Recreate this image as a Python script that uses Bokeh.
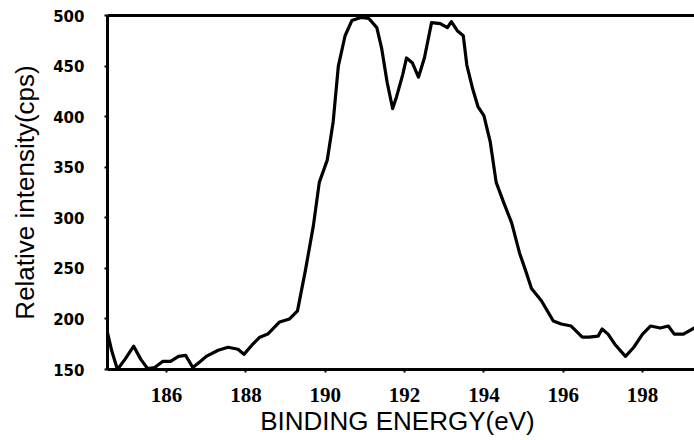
from bokeh.plotting import figure
from bokeh.models import LinearAxis, FixedTicker, Range1d
from bokeh.embed import file_html
from bokeh.resources import INLINE

# Binding energy (eV) and relative intensity (cps)
energy = [184.50, 184.62, 184.76, 184.95, 185.17, 185.35, 185.52, 185.70, 185.90, 186.10,
          186.30, 186.48, 186.66, 186.85, 187.00, 187.30, 187.55, 187.80, 187.95, 188.15,
          188.35, 188.55, 188.85, 189.10, 189.30, 189.50, 189.70, 189.85, 190.05, 190.20,
          190.33, 190.50, 190.67, 190.90, 191.10, 191.30, 191.42, 191.56, 191.70, 191.80,
          191.95, 192.05, 192.20, 192.35, 192.50, 192.68, 192.90, 193.08, 193.18, 193.33,
          193.48, 193.57, 193.72, 193.85, 194.00, 194.16, 194.31, 194.50, 194.70, 194.90,
          195.05, 195.20, 195.45, 195.60, 195.75, 195.95, 196.20, 196.48, 196.65, 196.88,
          196.98, 197.13, 197.30, 197.57, 197.78, 198.00, 198.20, 198.45, 198.65, 198.80,
          199.03, 199.35]
intensity = [188, 168, 150, 160, 173, 160, 151, 152, 158, 158,
             163, 164, 152, 158, 163, 169, 172, 170, 165, 174,
             182, 185, 197, 200, 208, 248, 292, 335, 357, 395,
             450, 480, 495, 498, 497, 488, 468, 434, 408, 420,
             441, 458, 453, 439, 458, 493, 492, 488, 494, 485,
             480, 451, 427, 410, 401, 375, 335, 315, 295, 265,
             248, 230, 218, 208, 198, 195, 193, 182, 182, 183,
             190, 185, 175, 163, 172, 185, 193, 191, 193, 185,
             185, 192]

x_ticks = [186, 188, 190, 192, 194, 196, 198]
y_ticks = [150, 200, 250, 300, 350, 400, 450, 500]
x_label = "BINDING  ENERGY(eV)"
y_label = "Relative intensity(cps)"

p = figure(width=694, height=440, output_backend="svg", toolbar_location=None,
           x_range=Range1d(184.51, 199.31), y_range=Range1d(150, 500),
           min_border_left=107, min_border_right=0, min_border_top=15,
           min_border_bottom=71)
p.grid.visible = False
p.outline_line_color = None
p.background_fill_color = "white"
p.border_fill_color = "white"

p.line(energy, intensity, line_color="black", line_width=3.2, line_join="round")

xa = p.xaxis[0]
xa.ticker = FixedTicker(ticks=x_ticks)
xa.axis_label = x_label
xa.axis_line_width = 3
xa.axis_line_color = "black"
xa.major_tick_line_width = 2
xa.major_tick_out = 3
xa.major_tick_in = 0
xa.minor_tick_line_color = None
xa.major_label_text_font = "Liberation Serif"
xa.major_label_text_font_style = "bold"
xa.major_label_text_font_size = "21px"
xa.major_label_text_color = "black"
xa.major_label_standoff = 15
xa.axis_label_text_font = "Liberation Sans"
xa.axis_label_text_font_style = "normal"
xa.axis_label_text_font_size = "26px"
xa.axis_label_text_color = "black"
xa.axis_label_standoff = 1

ya = p.yaxis[0]
ya.ticker = FixedTicker(ticks=y_ticks)
ya.axis_label = y_label
ya.axis_line_width = 3
ya.axis_line_color = "black"
ya.major_tick_line_width = 2
ya.major_tick_out = 3
ya.major_tick_in = 0
ya.minor_tick_line_color = None
ya.major_label_text_font = "DejaVu Sans"
ya.major_label_text_font_style = "bold"
ya.major_label_text_font_size = "15px"
ya.major_label_text_color = "black"
ya.major_label_standoff = 20
ya.axis_label_text_font = "Liberation Sans"
ya.axis_label_text_font_style = "normal"
ya.axis_label_text_font_size = "26px"
ya.axis_label_text_color = "black"
ya.axis_label_standoff = 10

top = LinearAxis(ticker=FixedTicker(ticks=[]), axis_line_width=3, axis_line_color="black",
                 major_label_text_font_size="0px", major_tick_out=0, major_tick_in=0,
                 minor_tick_out=0, minor_tick_in=0, major_label_standoff=0)
p.add_layout(top, "above")

open("out.html", "w").write(file_html(p, INLINE))
